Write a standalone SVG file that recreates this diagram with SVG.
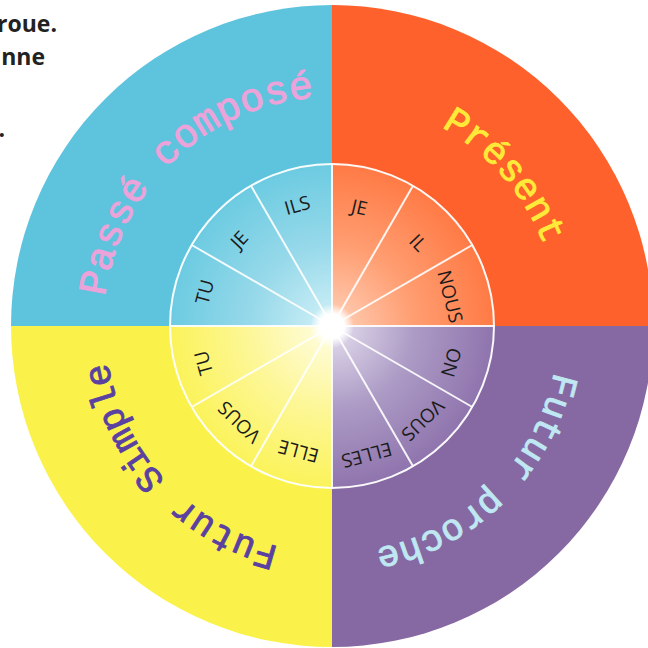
<svg xmlns="http://www.w3.org/2000/svg" xmlns:xlink="http://www.w3.org/1999/xlink" width="648" height="648" viewBox="0 0 648 648">
<style>
.para{font-family:"Open Sans","Noto Sans","Liberation Sans",sans-serif;font-weight:700;font-size:23px;fill:#222;}
.pron{font-family:"Open Sans","Noto Sans","Liberation Sans",sans-serif;font-size:19px;fill:#1b1b1b;text-anchor:middle;dominant-baseline:central;}
.tense{font-family:"Courier New","Liberation Mono",monospace;text-anchor:middle;stroke-width:0.9;}
.spoke{stroke:#ffffff;stroke-width:2;stroke-opacity:0.9;}
</style>
<defs>
<radialGradient id="gBlue" gradientUnits="userSpaceOnUse" cx="332" cy="326" r="162">
<stop offset="0" stop-color="#d2f1f8"/><stop offset="0.5" stop-color="#97d9ea"/><stop offset="1" stop-color="#6ccbe1"/>
</radialGradient>
<radialGradient id="gOrange" gradientUnits="userSpaceOnUse" cx="332" cy="326" r="162">
<stop offset="0" stop-color="#ffd2bb"/><stop offset="0.5" stop-color="#ff9e72"/><stop offset="1" stop-color="#ff7a45"/>
</radialGradient>
<radialGradient id="gPurple" gradientUnits="userSpaceOnUse" cx="332" cy="326" r="162">
<stop offset="0" stop-color="#e6e0ef"/><stop offset="0.5" stop-color="#ad9cc6"/><stop offset="1" stop-color="#8f74ad"/>
</radialGradient>
<radialGradient id="gYellow" gradientUnits="userSpaceOnUse" cx="332" cy="326" r="162">
<stop offset="0" stop-color="#fffde6"/><stop offset="0.5" stop-color="#fdf79a"/><stop offset="1" stop-color="#fbf35a"/>
</radialGradient>
<radialGradient id="gHub" gradientUnits="userSpaceOnUse" cx="332" cy="326" r="22">
<stop offset="0.55" stop-color="#ffffff" stop-opacity="1"/><stop offset="1" stop-color="#ffffff" stop-opacity="0"/>
</radialGradient>
<path id="ring" d="M332 553 A227 227 0 0 1 332 99 A227 227 0 0 1 332 553"/>
<path id="ring2" d="M332 555 A229 229 0 0 1 332 97 A229 229 0 0 1 332 555"/>
</defs>

<rect width="648" height="648" fill="#ffffff"/>

<g id="intro-text">
<text class="para" x="57" y="32" text-anchor="end">roue.</text>
<text class="para" x="45" y="65" text-anchor="end">nne</text>
<text class="para" x="5" y="137" text-anchor="end">.</text>
</g>

<g id="passe-compose">
<path d="M332 326 L11 326 A321 321 0 0 1 332 5 Z" fill="#5ec4de"/>
<path d="M332 326 L170 326 A162 162 0 0 1 332 164 Z" fill="url(#gBlue)"/>
<text class="tense" font-size="40" fill="#eba3d9" stroke="#eba3d9"><textPath xlink:href="#ring2" href="#ring2" startOffset="37.9%">Passé composé</textPath></text>
</g>
<g id="present">
<path d="M332 326 L332 5 A321 321 0 0 1 653 326 Z" fill="#fe612c"/>
<path d="M332 326 L332 164 A162 162 0 0 1 494 326 Z" fill="url(#gOrange)"/>
<text class="tense" font-size="38" fill="#ffea3a" stroke="#ffea3a"><textPath xlink:href="#ring" href="#ring" startOffset="63.6%">Présent</textPath></text>
</g>
<g id="futur-proche">
<path d="M332 326 L653 326 A321 321 0 0 1 332 647 Z" fill="#8668a3"/>
<path d="M332 326 L494 326 A162 162 0 0 1 332 488 Z" fill="url(#gPurple)"/>
<text class="tense" font-size="37" fill="#bfe8f2" stroke="#bfe8f2"><textPath xlink:href="#ring" href="#ring" startOffset="87.6%">Futur proche</textPath></text>
</g>
<g id="futur-simple">
<path d="M332 326 L332 647 A321 321 0 0 1 11 326 Z" fill="#faf24a"/>
<path d="M332 326 L332 488 A162 162 0 0 1 170 326 Z" fill="url(#gYellow)"/>
<text class="tense" font-size="37" fill="#5a40a0" stroke="#5a40a0"><textPath xlink:href="#ring" href="#ring" startOffset="13.1%">Futur Simple</textPath></text>
</g>

<g id="connectors">
<circle cx="332" cy="326" r="162" fill="none" stroke="#ffffff" stroke-width="2" stroke-opacity="0.95"/>
<line class="spoke" x1="332" y1="326" x2="332" y2="164" transform="rotate(0 332 326)"/>
<line class="spoke" x1="332" y1="326" x2="332" y2="164" transform="rotate(30 332 326)"/>
<line class="spoke" x1="332" y1="326" x2="332" y2="164" transform="rotate(60 332 326)"/>
<line class="spoke" x1="332" y1="326" x2="332" y2="164" transform="rotate(90 332 326)"/>
<line class="spoke" x1="332" y1="326" x2="332" y2="164" transform="rotate(120 332 326)"/>
<line class="spoke" x1="332" y1="326" x2="332" y2="164" transform="rotate(150 332 326)"/>
<line class="spoke" x1="332" y1="326" x2="332" y2="164" transform="rotate(180 332 326)"/>
<line class="spoke" x1="332" y1="326" x2="332" y2="164" transform="rotate(210 332 326)"/>
<line class="spoke" x1="332" y1="326" x2="332" y2="164" transform="rotate(240 332 326)"/>
<line class="spoke" x1="332" y1="326" x2="332" y2="164" transform="rotate(270 332 326)"/>
<line class="spoke" x1="332" y1="326" x2="332" y2="164" transform="rotate(300 332 326)"/>
<line class="spoke" x1="332" y1="326" x2="332" y2="164" transform="rotate(330 332 326)"/>
</g>

<g id="hub">
<circle cx="332" cy="326" r="22" fill="url(#gHub)"/>
<circle cx="332" cy="326" r="12" fill="#ffffff"/>
</g>

<g id="pronouns">
<text id="p-ils" class="pron" x="332" y="200" transform="rotate(344 332 326)">ILS</text>
<text id="p-je1" class="pron" x="332" y="199" transform="rotate(313 332 326)">JE</text>
<text id="p-tu1" class="pron" x="332" y="194" transform="rotate(285 332 326)">TU</text>
<text id="p-je2" class="pron" x="332" y="204" transform="rotate(13 332 326)">JE</text>
<text id="p-il" class="pron" x="332" y="206" transform="rotate(46 332 326)">IL</text>
<text id="p-nous" class="pron" x="332" y="204" transform="rotate(76 332 326)">NOUS</text>
<text id="p-on" class="pron" x="332" y="201" transform="rotate(107 332 326)">ON</text>
<text id="p-vous1" class="pron" x="332" y="195" transform="rotate(136 332 326)">VOUS</text>
<text id="p-elles" class="pron" x="332" y="192" transform="rotate(165 332 326)">ELLES</text>
<text id="p-elle" class="pron" x="332" y="196" transform="rotate(195 332 326)">ELLE</text>
<text id="p-vous2" class="pron" x="332" y="192" transform="rotate(224 332 326)">VOUS</text>
<text id="p-tu2" class="pron" x="332" y="192" transform="rotate(254 332 326)">TU</text>
</g>
</svg>
